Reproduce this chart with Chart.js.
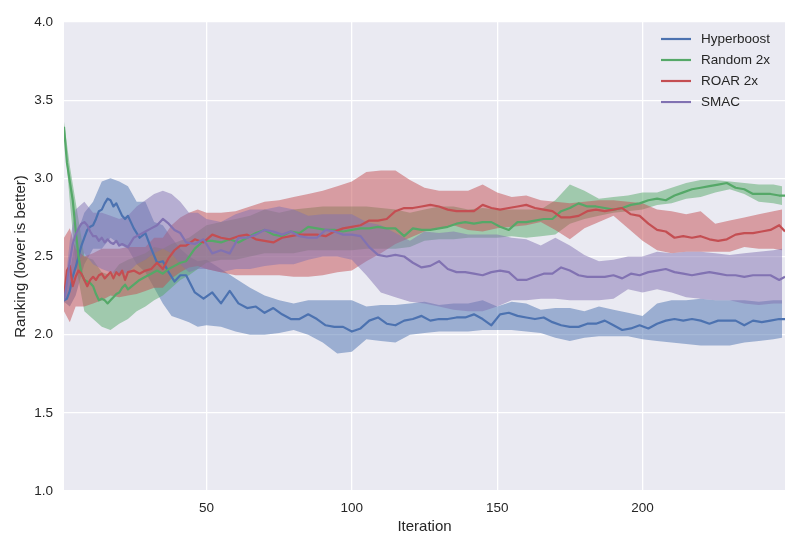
<!DOCTYPE html>
<html>
<head>
<meta charset="utf-8">
<script src="https://cdn.jsdelivr.net/npm/chart.js@4.4.1/dist/chart.umd.min.js"></script>
<style>
html,body{margin:0;padding:0;background:#fff;}
#wrap{width:800px;height:550px;}
</style>
</head>
<body>
<div id="wrap"><canvas id="c" width="800" height="550"></canvas></div>
<script>
// ---- data ----
const seriesNames = ["Hyperboost", "Random 2x", "ROAR 2x", "SMAC"];
const xTickValues = [50, 100, 150, 200];
const yTickValues = [1.0, 1.5, 2.0, 2.5, 3.0, 3.5, 4.0];

const iterations = [1,2,3,4,5,6,7,8,9,10,11,12,13,14,15,16,17,18,19,20,21,22,23,
 25,27,29,31,33,35,37,39,41,43,
 46,49,52,55,58,61,64,67,70,73,76,79,82,85,88,91,94,97,100,103,106,109,112,115,118,121,124,
 127,130,133,136,139,142,145,148,151,154,157,160,163,166,169,172,175,178,181,184,187,190,193,196,199,202,205,
 208,211,214,217,220,223,226,229,232,235,238,241,244,247,249];

const hyperboost = [2.22,2.23,2.28,2.37,2.43,2.50,2.57,2.62,2.67,2.69,2.70,2.74,2.79,2.80,2.84,2.87,2.86,2.82,2.84,2.80,2.76,2.74,2.76,
 2.68,2.62,2.65,2.55,2.46,2.47,2.40,2.34,2.38,2.38,
 2.27,2.23,2.27,2.20,2.28,2.20,2.17,2.18,2.14,2.17,2.13,2.10,2.10,
 2.13,2.10,2.06,2.05,2.05,2.02,2.04,2.09,2.11,2.07,2.06,2.09,2.10,2.12,
 2.09,2.10,2.10,2.11,2.11,2.13,2.10,2.06,2.13,2.14,2.12,2.11,2.10,2.11,
 2.08,2.06,2.05,2.05,2.07,2.07,2.09,2.06,2.03,2.04,2.06,2.04,2.07,
 2.09,2.10,2.09,2.10,2.09,2.07,2.09,2.09,2.09,2.06,2.09,2.08,2.09,2.10,
 2.10];

const random2x = [3.33,3.10,2.98,2.86,2.67,2.50,2.39,2.35,2.34,2.33,2.31,2.26,2.22,2.23,2.22,2.20,2.22,2.24,2.26,2.27,2.30,2.32,2.29,
 2.32,2.35,2.37,2.39,2.41,2.39,2.42,2.44,2.46,2.47,
 2.55,2.60,2.60,2.59,2.61,2.59,2.62,2.65,2.67,2.64,2.63,2.66,2.65,
 2.69,2.68,2.67,2.67,2.66,2.67,2.68,2.68,2.69,2.68,2.68,2.63,2.68,2.67,
 2.67,2.68,2.69,2.71,2.72,2.71,2.72,2.72,2.69,2.67,2.72,2.72,2.73,2.74,
 2.74,2.79,2.81,2.84,2.82,2.82,2.81,2.80,2.81,2.83,2.84,2.86,2.87,
 2.86,2.89,2.91,2.93,2.94,2.95,2.96,2.97,2.94,2.93,2.90,2.90,2.90,2.89,
 2.89];

const roar2x = [2.24,2.41,2.44,2.31,2.37,2.41,2.39,2.35,2.31,2.35,2.37,2.35,2.38,2.39,2.36,2.38,2.40,2.36,2.40,2.38,2.41,2.35,2.40,
 2.41,2.39,2.41,2.42,2.46,2.42,2.49,2.54,2.57,2.57,
 2.61,2.59,2.64,2.62,2.61,2.63,2.64,2.61,2.60,2.59,2.62,2.63,2.64,
 2.64,2.64,2.63,2.66,2.68,2.69,2.70,2.73,2.73,2.74,2.79,2.81,2.81,2.82,
 2.83,2.82,2.80,2.79,2.79,2.79,2.83,2.81,2.80,2.81,2.82,2.83,2.81,2.80,
 2.79,2.75,2.75,2.76,2.79,2.80,2.79,2.80,2.81,2.77,2.76,2.71,2.67,
 2.66,2.62,2.63,2.62,2.63,2.61,2.60,2.61,2.64,2.65,2.65,2.66,2.67,2.70,
 2.66];

const smac = [2.22,2.33,2.47,2.58,2.64,2.68,2.71,2.72,2.70,2.66,2.63,2.63,2.60,2.62,2.59,2.61,2.59,2.58,2.60,2.57,2.58,2.57,2.56,
 2.62,2.64,2.66,2.68,2.70,2.74,2.71,2.67,2.65,2.59,
 2.58,2.61,2.52,2.54,2.52,2.62,2.62,2.64,2.67,2.66,2.64,2.66,2.63,
 2.62,2.62,2.67,2.66,2.64,2.64,2.63,2.56,2.51,2.50,2.51,2.50,2.46,2.43,
 2.44,2.47,2.42,2.40,2.40,2.39,2.38,2.40,2.41,2.40,2.35,2.35,2.37,2.39,
 2.39,2.43,2.41,2.38,2.37,2.37,2.37,2.38,2.36,2.39,2.38,2.40,2.41,
 2.42,2.40,2.39,2.38,2.39,2.40,2.39,2.38,2.38,2.37,2.38,2.38,2.38,2.35,
 2.37];

const bandIterations = [1,3,5,8,11,14,17,20,23,26,29,32,35,38,41,44,47,50,
 55,60,65,70,75,80,85,90,95,100,105,110,115,120,125,130,135,140,145,150,155,160,
 165,170,175,180,185,190,195,200,205,210,215,220,225,230,235,240,245,248];

const hyperboostLow  = [2.21,2.18,2.25,2.45,2.55,2.55,2.62,2.58,2.55,2.45,2.40,2.30,2.20,2.12,2.10,2.08,2.05,2.06,
 2.05,2.02,2.00,2.00,2.01,2.03,2.00,1.95,1.88,1.89,1.97,1.96,1.95,2.00,2.01,2.02,2.02,2.02,2.03,2.03,2.03,2.02,
 2.01,1.98,1.96,1.98,1.99,1.99,1.99,1.97,1.96,1.95,1.94,1.93,1.93,1.93,1.95,1.96,1.97,1.98];
const hyperboostHigh = [2.23,2.40,2.62,2.78,2.85,2.98,3.00,2.98,2.95,2.85,2.85,2.72,2.70,2.62,2.55,2.50,2.47,2.48,
 2.42,2.36,2.30,2.25,2.22,2.20,2.22,2.22,2.22,2.22,2.18,2.19,2.19,2.20,2.21,2.19,2.20,2.20,2.22,2.18,2.21,2.20,
 2.16,2.17,2.17,2.15,2.18,2.16,2.14,2.12,2.20,2.22,2.22,2.23,2.22,2.22,2.22,2.21,2.22,2.22];

const random2xLow  = [3.30,2.85,2.45,2.15,2.10,2.05,2.03,2.07,2.10,2.15,2.18,2.22,2.25,2.30,2.35,2.38,2.42,2.46,
 2.48,2.48,2.50,2.52,2.52,2.52,2.54,2.54,2.54,2.54,2.55,2.55,2.55,2.56,2.60,2.61,2.61,2.62,2.62,2.62,2.63,2.62,
 2.63,2.64,2.71,2.74,2.76,2.78,2.79,2.80,2.83,2.84,2.87,2.88,2.91,2.93,2.90,2.85,2.84,2.83];
const random2xHigh = [3.36,3.08,2.85,2.50,2.48,2.40,2.38,2.45,2.48,2.50,2.52,2.56,2.55,2.58,2.60,2.62,2.66,2.70,
 2.72,2.74,2.76,2.80,2.78,2.80,2.81,2.82,2.82,2.82,2.82,2.81,2.80,2.78,2.80,2.82,2.82,2.80,2.81,2.80,2.80,2.80,
 2.80,2.86,2.96,2.92,2.87,2.88,2.89,2.91,2.91,2.94,2.97,2.99,2.99,2.98,2.97,2.96,2.96,2.95];

const roar2xLow  = [2.15,2.08,2.18,2.18,2.20,2.22,2.25,2.24,2.25,2.26,2.28,2.30,2.30,2.36,2.40,2.43,2.44,2.42,
 2.40,2.38,2.38,2.38,2.38,2.37,2.37,2.38,2.40,2.41,2.47,2.52,2.58,2.62,2.66,2.68,2.70,2.67,2.66,2.68,2.69,2.70,
 2.72,2.67,2.61,2.68,2.72,2.76,2.68,2.60,2.54,2.52,2.53,2.53,2.53,2.53,2.56,2.55,2.55,2.54];
const roar2xHigh = [2.62,2.68,2.55,2.50,2.52,2.55,2.55,2.55,2.56,2.56,2.56,2.62,2.62,2.70,2.75,2.78,2.80,2.78,
 2.78,2.79,2.82,2.85,2.86,2.88,2.90,2.92,2.95,2.98,3.04,3.05,3.05,2.99,2.94,2.92,2.92,2.92,2.96,2.91,2.88,2.89,
 2.86,2.85,2.84,2.85,2.86,2.86,2.85,2.84,2.80,2.79,2.77,2.79,2.71,2.73,2.75,2.77,2.79,2.80];

const smacLow  = [2.20,2.30,2.45,2.52,2.45,2.42,2.40,2.38,2.40,2.45,2.48,2.52,2.55,2.52,2.45,2.40,2.42,2.42,
 2.40,2.42,2.42,2.44,2.45,2.45,2.48,2.50,2.50,2.48,2.38,2.27,2.24,2.21,2.20,2.18,2.16,2.15,2.15,2.18,2.22,2.22,
 2.23,2.23,2.22,2.22,2.22,2.23,2.29,2.27,2.29,2.27,2.24,2.23,2.22,2.22,2.20,2.19,2.20,2.20];
const smacHigh = [2.25,2.60,2.80,2.85,2.78,2.78,2.76,2.74,2.76,2.82,2.86,2.90,2.92,2.90,2.85,2.78,2.78,2.74,
 2.72,2.77,2.80,2.80,2.82,2.80,2.76,2.77,2.77,2.77,2.72,2.70,2.65,2.60,2.66,2.65,2.66,2.64,2.64,2.64,2.62,2.61,
 2.57,2.62,2.57,2.51,2.47,2.48,2.50,2.50,2.53,2.52,2.53,2.53,2.52,2.51,2.52,2.53,2.54,2.55];

const lineColors = ["#4C72B0", "#55A868", "#C44E52", "#8172B2"];
const bandColors = ["rgba(76,114,176,0.5)", "rgba(85,168,104,0.5)", "rgba(196,78,82,0.5)", "rgba(129,114,178,0.5)"];

// ---- build datasets ----
const means = [hyperboost, random2x, roar2x, smac];
const lows = [hyperboostLow, random2xLow, roar2xLow, smacLow];
const highs = [hyperboostHigh, random2xHigh, roar2xHigh, smacHigh];
const toXY = (xs, ys) => xs.map((x, i) => ({x: x, y: ys[i]}));

const datasets = [];
for (let s = 0; s < 4; s++) {
  datasets.push({
    label: seriesNames[s] + " low",
    data: toXY(bandIterations, lows[s]),
    borderColor: "rgba(0,0,0,0)", borderWidth: 0, pointRadius: 0, fill: false, order: 23 - s
  });
  datasets.push({
    label: seriesNames[s] + " high",
    data: toXY(bandIterations, highs[s]),
    borderColor: "rgba(0,0,0,0)", borderWidth: 0, pointRadius: 0,
    backgroundColor: bandColors[s], fill: "-1", order: 23 - s
  });
}
for (let s = 0; s < 4; s++) {
  datasets.push({
    label: seriesNames[s],
    data: toXY(iterations, means[s]),
    borderColor: lineColors[s], borderWidth: 2.2, pointRadius: 0, fill: false, order: 3 - s,
    borderJoinStyle: "round", borderCapStyle: "butt"
  });
}

const FONT = "'Liberation Sans', Arial, sans-serif";
const TEXT = "#262626";

const bgPlugin = {
  id: "bg",
  beforeDraw(chart) {
    const {ctx, chartArea: a} = chart;
    ctx.save();
    ctx.fillStyle = "#EAEAF2";
    ctx.fillRect(a.left, a.top, a.right - a.left, a.bottom - a.top);
    ctx.restore();
  }
};

const legendPlugin = {
  id: "customLegend",
  afterDraw(chart) {
    const ctx = chart.ctx;
    ctx.save();
    ctx.font = "13.5px " + FONT;
    ctx.textBaseline = "middle";
    ctx.textAlign = "left";
    for (let s = 0; s < 4; s++) {
      const y = 39 + s * 21;
      ctx.strokeStyle = lineColors[s];
      ctx.lineWidth = 2.2;
      ctx.beginPath();
      ctx.moveTo(661, y);
      ctx.lineTo(691, y);
      ctx.stroke();
      ctx.fillStyle = TEXT;
      ctx.fillText(seriesNames[s], 701, y);
    }
    ctx.restore();
  }
};

new Chart(document.getElementById("c"), {
  type: "line",
  data: {datasets: datasets},
  options: {
    responsive: false,
    animation: false,
    devicePixelRatio: 1,
    layout: {padding: {left: 0, right: 15, top: 22, bottom: 0}},
    plugins: {
      legend: {display: false},
      tooltip: {enabled: false},
      filler: {drawTime: "beforeDatasetsDraw", propagate: false}
    },
    scales: {
      x: {
        type: "linear",
        min: 1, max: 249,
        afterBuildTicks(scale) { scale.ticks = xTickValues.map(v => ({value: v})); },
        afterFit(scale) { scale.height = 59; },
        grid: {color: "#ffffff", lineWidth: 1.3, drawTicks: false},
        border: {display: false},
        ticks: {color: TEXT, font: {family: FONT, size: 13.5}, padding: 9, maxRotation: 0, autoSkip: false},
        title: {display: true, text: "Iteration", color: TEXT, font: {family: FONT, size: 15}, padding: {top: 0, bottom: 14.5}}
      },
      y: {
        type: "linear",
        min: 1, max: 4,
        afterBuildTicks(scale) { scale.ticks = yTickValues.map(v => ({value: v})); },
        afterFit(scale) { scale.width = 64; },
        grid: {color: "#ffffff", lineWidth: 1.3, drawTicks: false},
        border: {display: false},
        ticks: {color: TEXT, font: {family: FONT, size: 13.5}, padding: 11, callback: v => Number(v).toFixed(1)},
        title: {display: true, text: "Ranking (lower is better)", color: TEXT, font: {family: FONT, size: 15}, padding: {top: 11.5, bottom: 0}}
      }
    }
  },
  plugins: [bgPlugin, legendPlugin]
});
</script>
</body>
</html>
